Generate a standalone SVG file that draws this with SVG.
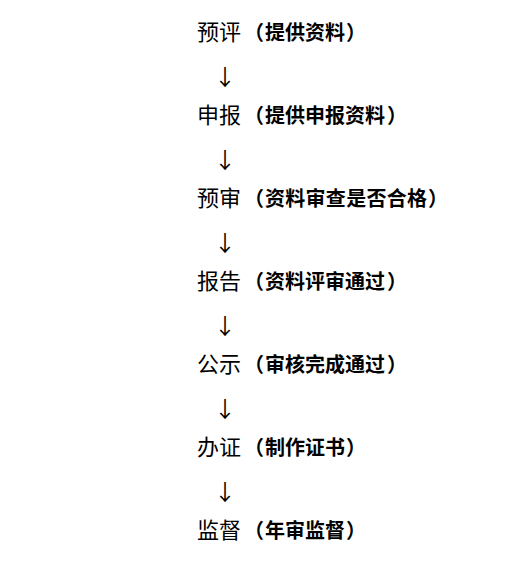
<svg xmlns="http://www.w3.org/2000/svg" width="531" height="564" viewBox="0 0 531 564">
<style>
text{text-spacing-trim:space-all}
.m{font-family:"Noto Sans CJK SC","Noto Sans CJK JP",sans-serif;font-size:22px;fill:#000}
.p{font-family:"Noto Sans CJK SC","Noto Sans CJK JP",sans-serif;font-size:20px;font-weight:bold;fill:#000}
.a{font-family:"Noto Sans CJK SC","DejaVu Sans",sans-serif;font-size:22px;fill:#000;text-anchor:middle}
</style>
<rect width="531" height="564" fill="#fff"/>
<g id="n1"><text y="40"><tspan class="m" x="197">预评</tspan><tspan class="p" x="244">（</tspan><tspan class="p" x="265">提供资料</tspan><tspan class="p" x="346">）</tspan></text></g>
<g id="n2"><text y="123"><tspan class="m" x="197">申报</tspan><tspan class="p" x="244">（</tspan><tspan class="p" x="265">提供申报资料</tspan><tspan class="p" x="387">）</tspan></text></g>
<g id="n3"><text y="206"><tspan class="m" x="197">预审</tspan><tspan class="p" x="244">（</tspan><tspan class="p" x="265" textLength="162">资料审查是否合格</tspan><tspan class="p" x="428">）</tspan></text></g>
<g id="n4"><text y="289"><tspan class="m" x="197">报告</tspan><tspan class="p" x="244">（</tspan><tspan class="p" x="265">资料评审通过</tspan><tspan class="p" x="387">）</tspan></text></g>
<g id="n5"><text y="372"><tspan class="m" x="197">公示</tspan><tspan class="p" x="244">（</tspan><tspan class="p" x="265">审核完成通过</tspan><tspan class="p" x="387">）</tspan></text></g>
<g id="n6"><text y="455"><tspan class="m" x="197">办证</tspan><tspan class="p" x="244">（</tspan><tspan class="p" x="265">制作证书</tspan><tspan class="p" x="346">）</tspan></text></g>
<g id="n7"><text y="538"><tspan class="m" x="197">监督</tspan><tspan class="p" x="244">（</tspan><tspan class="p" x="265">年审监督</tspan><tspan class="p" x="346">）</tspan></text></g>
<g id="connectors">
<text class="a" x="225" y="85">↓</text>
<text class="a" x="225" y="168">↓</text>
<text class="a" x="225" y="251">↓</text>
<text class="a" x="225" y="334">↓</text>
<text class="a" x="225" y="417">↓</text>
<text class="a" x="225" y="500">↓</text>
</g>
</svg>
